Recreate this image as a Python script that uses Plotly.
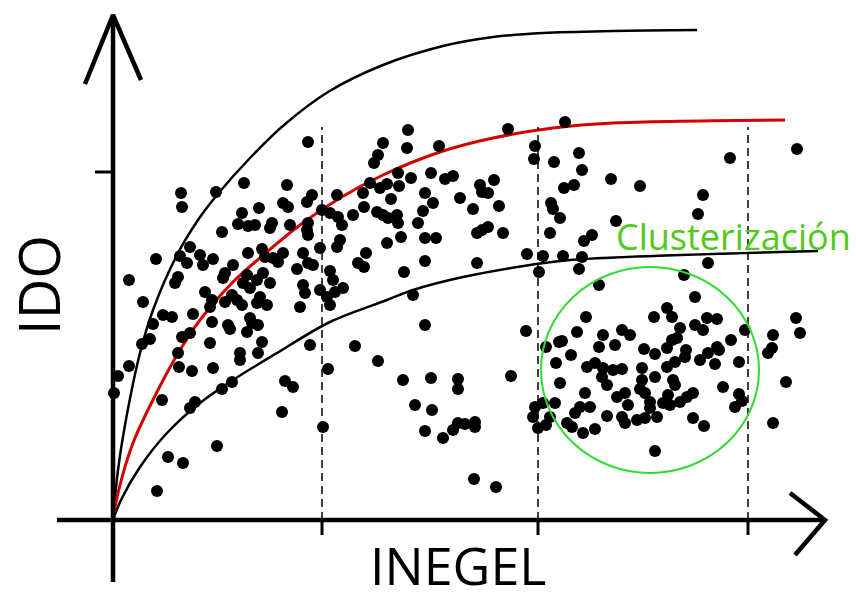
import plotly.graph_objects as go

# ---- scatter cloud (INEGEL, IDO) ----
inegel = [
    195,131,174,68,69,103,199,194,224,146,129,170,175,125,135,142,159,157,177,109,
    195,194,195,209,217,225,207,77,67,74,87,90,100,43,135,149,152,160,170,165,
    190,195,200,184,217,220,120,112,110,134,144,150,157,130,137,65,62,16,92,30,
    190,192,207,214,222,119,124,112,129,99,97,187,147,144,154,217,
    50,59,80,99,40,37,29,69,77,97,115,117,134,137,139,145,149,127,127,145,
    65,66,79,100,16,5,1,49,82,77,109,119,104,55,70,44,197,215,172,180,169,210,
    295,294,270,265,261,326,395,452,422,421,441,250,257,267,274,285,286,298,318,332,
    340,312,278,347,367,369,375,381,451,438,440,447,251,240,264,270,275,284,285,320,
    310,229,305,360,386,364,375,369,390,437,288,227,224,312,323,274,253,245,251,312,
    364,291,414,430,450,426,230,300,
    466,469,461,498,527,617,684,590,585,503,479,471,469,466,595,486,571,582,554,
    312,242,265,290,318,345,345,302,319,312,330,340,345,352,362,362,398,413,361,383,
    433,446,443,447,422,430,442,420,425,433,437,454,
    473,541,559,594,604,582,590,632,683,687,660,659,655,464,449,490,486,509,502,517,
    567,618,531,542,554,559,564,573,572,562,554,587,595,604,602,606,626,458,474,482,
    490,500,509,489,494,529,529,527,532,537,542,560,562,555,550,472,467,477,462,459,
    470,482,504,512,515,509,512,524,532,544,537,494,557,567,574,580,610,626,629,622,
    580,591,673,660,542,
]
ido = [
    378,337,335,327,313,328,325,318,325,312,307,317,313,296,294,295,297,292,295,288,
    297,290,285,310,307,303,272,273,264,257,265,255,261,261,267,271,263,262,267,258,
    267,257,255,251,249,240,255,247,242,245,240,247,237,237,232,243,237,240,228,218,
    235,227,230,223,228,225,220,218,215,220,213,213,223,217,215,215,
    205,203,206,198,196,181,176,183,187,177,195,191,188,202,197,195,178,167,160,167,
    167,153,149,152,154,144,127,120,118,112,131,138,74,63,57,29,175,151,139,133,108,93,
    390,372,377,365,357,374,391,398,374,361,358,327,337,332,336,347,334,342,347,341,
    344,327,321,322,335,328,327,340,332,317,311,302,313,305,308,305,302,305,297,317,
    309,295,297,311,314,287,293,290,287,287,283,280,273,282,282,277,267,257,253,259,
    257,248,266,264,264,248,232,225,
    367,350,335,341,334,362,371,325,306,299,285,279,263,251,257,235,245,223,212,
    195,174,159,140,142,141,131,115,110,89,82,90,97,96,98,93,144,189,41,33,
    173,178,157,137,113,117,117,103,92,95,103,97,
    203,203,203,202,201,195,190,190,202,187,185,172,167,188,179,185,173,190,175,185,
    192,180,171,166,172,180,182,170,163,158,153,160,167,173,156,170,158,165,153,157,
    152,150,151,143,135,152,140,131,127,118,143,140,135,125,117,127,113,113,107,93,
    87,91,123,127,115,103,97,100,102,103,112,104,115,118,123,127,133,126,119,113,
    102,94,138,97,69,
]

# ---- reference curves (sampled points, drawn as splines) ----
upper_x = [0, 5, 12, 27, 40, 64, 85, 104, 137, 171, 215, 270, 330, 380, 430, 500, 584]
upper_y = [0, 50, 95, 167, 210, 265, 300, 325, 362, 395, 428, 455, 474, 483, 487, 489, 490]

mid_x = [0, 5, 20, 45, 67, 87, 120, 154, 187, 227, 270, 327, 380, 440, 500, 672]
mid_y = [0, 27, 77, 130, 170, 200, 238, 268, 295, 322, 345, 368, 382, 392, 397, 400]

low_x = [0, 8, 27, 54, 87, 120, 164, 217, 274, 300, 350, 417, 457, 705]
low_y = [0, 20, 53, 87, 117, 140, 167, 198, 220, 230, 243, 255, 260, 269]

# ---- axis furniture ----
guide_x = [209, 425, 635]          # dashed guides / x ticks
guide_top = 393
ytick_val = 348
x_axis = ([-56, 712], [0, 0])
y_axis = ([0, 0], [-62, 505])
x_head = ([677, 712, 682], [27, 0, -35])
y_head = ([-28, 0, 28], [436, 505, 440])

cluster_center = (537, 150)
cluster_r = (109, 103)

fig = go.Figure()

fig.add_trace(go.Scatter(x=upper_x, y=upper_y, mode="lines",
                         line=dict(color="black", width=2.5, shape="spline", smoothing=1)))
fig.add_trace(go.Scatter(x=low_x, y=low_y, mode="lines",
                         line=dict(color="black", width=2.5, shape="spline", smoothing=1)))
fig.add_trace(go.Scatter(x=mid_x, y=mid_y, mode="lines",
                         line=dict(color="#d40000", width=3, shape="spline", smoothing=1)))

for gx in guide_x:
    fig.add_trace(go.Scatter(x=[gx, gx], y=[0, guide_top], mode="lines",
                             line=dict(color="black", width=1.5, dash="8px,5px")))
    fig.add_trace(go.Scatter(x=[gx, gx], y=[-15, 0], mode="lines",
                             line=dict(color="black", width=3)))

fig.add_trace(go.Scatter(x=[-18, 0], y=[ytick_val, ytick_val], mode="lines",
                         line=dict(color="black", width=3)))

for xs, ys in (x_axis, y_axis, x_head, y_head):
    fig.add_trace(go.Scatter(x=xs, y=ys, mode="lines",
                             line=dict(color="black", width=4.5)))

fig.add_trace(go.Scatter(x=inegel, y=ido, mode="markers",
                         marker=dict(color="black", size=12, line=dict(width=0))))

cx, cy = cluster_center
rx, ry = cluster_r
fig.add_shape(type="circle", xref="x", yref="y",
              x0=cx - rx, x1=cx + rx, y0=cy - ry, y1=cy + ry,
              line=dict(color="#2fdc2f", width=2))

fig.add_annotation(x=620, y=284, text="Clusterización", showarrow=False,
                   font=dict(family="Open Sans", size=36, color="#52c81c"),
                   xanchor="center", yanchor="middle")
fig.add_annotation(x=-75, y=235, text="IDO", showarrow=False, textangle=-90,
                   font=dict(family="Open Sans", size=56, color="black"),
                   xanchor="center", yanchor="middle")
fig.add_annotation(x=345, y=-44, text="INEGEL", showarrow=False,
                   font=dict(family="Open Sans", size=52, color="black"),
                   xanchor="center", yanchor="middle")

fig.update_layout(
    width=856, height=598,
    margin=dict(l=0, r=0, t=0, b=0),
    paper_bgcolor="white", plot_bgcolor="white",
    showlegend=False,
    xaxis=dict(range=[-113, 743], visible=False, fixedrange=True),
    yaxis=dict(range=[-78, 520], visible=False, fixedrange=True),
)

fig.write_html("out.html")
